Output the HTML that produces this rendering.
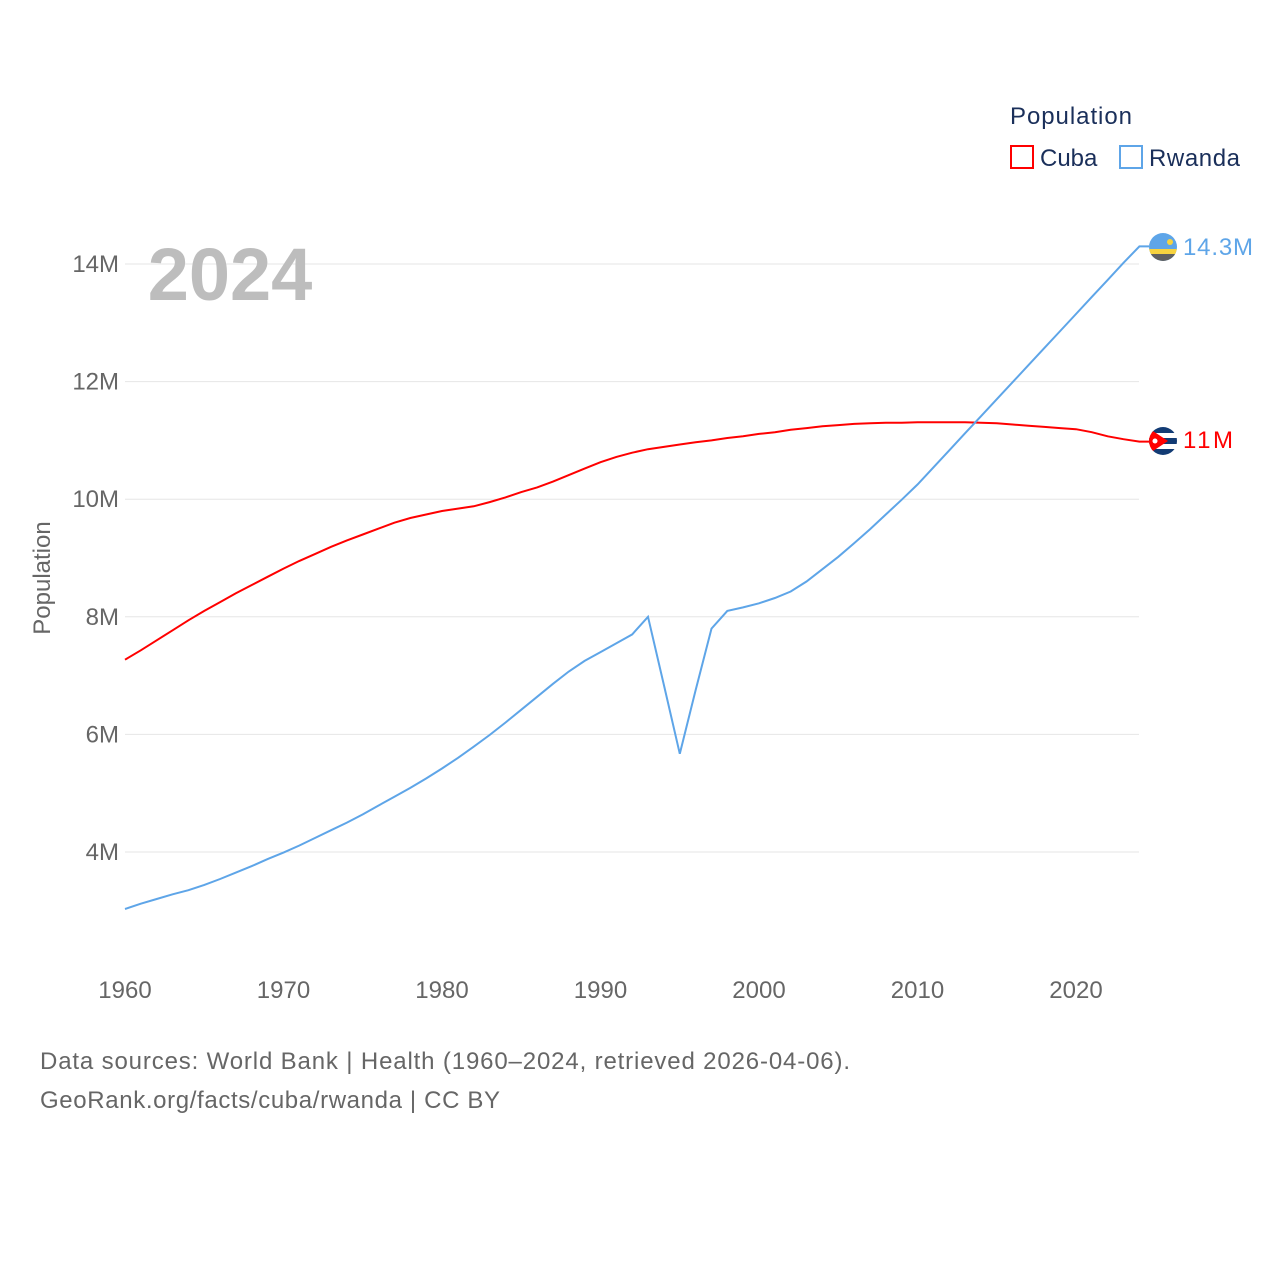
<!DOCTYPE html>
<html><head><meta charset="utf-8"><style>
body{margin:0;background:#fff;font-family:"Liberation Sans",sans-serif}
svg text{font-family:"Liberation Sans",sans-serif}
</style></head><body>
<svg width="1280" height="1280" viewBox="0 0 1280 1280">
<g id="grid"></g>
<g id="ticks"></g>
<text x="230" y="300" font-size="74" font-weight="bold" fill="#bdbdbd" text-anchor="middle">2024</text>
<text transform="translate(50,578) rotate(-90)" font-size="24" fill="#666" text-anchor="middle">Population</text>
<g>
<text x="1010" y="124" font-size="24" fill="#1a2f5a" textLength="122">Population</text>
<g><rect x="1011" y="146" width="22" height="22" fill="none" stroke="#f00" stroke-width="2"/><text x="1040" y="166" font-size="24" fill="#1a2f5a">Cuba</text></g>
<g><rect x="1120" y="146" width="22" height="22" fill="none" stroke="#5ea5e8" stroke-width="2"/><text x="1149" y="166" font-size="24" fill="#1a2f5a" textLength="91">Rwanda</text></g>
</g>
<g id="series"></g>
<defs>
<clipPath id="c1"><circle cx="1163" cy="247" r="14"/></clipPath>
<clipPath id="c2"><circle cx="1163" cy="441" r="14"/></clipPath>
</defs>
<g clip-path="url(#c1)">
<rect x="1149" y="233" width="28" height="28" fill="#5ea5e8"/>
<rect x="1149" y="249" width="28" height="5" fill="#f7d33f"/>
<rect x="1149" y="254" width="28" height="7" fill="#616161"/>
<circle cx="1170" cy="242" r="3" fill="#f7d33f"/>
</g>
<g clip-path="url(#c2)">
<rect x="1149" y="427" width="28" height="28" fill="#fff"/>
<rect x="1149" y="427" width="28" height="6" fill="#123b74"/>
<rect x="1149" y="438" width="28" height="6" fill="#123b74"/>
<rect x="1149" y="449" width="28" height="6" fill="#123b74"/>
<polygon points="1147,427 1168,441 1147,455" fill="#f00"/>
<circle cx="1155" cy="441" r="2.5" fill="#fff"/>
</g>
<text x="1183" y="255" font-size="24" fill="#5ea5e8" textLength="70">14.3M</text>
<text x="1183" y="448" font-size="24" fill="#f00" textLength="50">11M</text>
<text x="40" y="1069" font-size="24" fill="#666" textLength="810">Data sources: World Bank | Health (1960–2024, retrieved 2026-04-06).</text>
<text x="40" y="1108" font-size="24" fill="#666" textLength="460">GeoRank.org/facts/cuba/rwanda | CC BY</text>
</svg>
<script>
const years = [];for(let y=1960;y<=2024;y++)years.push(y);
const cuba = [7.27,7.43,7.6,7.77,7.94,8.1,8.25,8.4,8.54,8.68,8.82,8.95,9.07,9.19,9.3,9.4,9.5,9.6,9.68,9.74,9.8,9.84,9.88,9.95,10.03,10.12,10.2,10.3,10.41,10.52,10.63,10.72,10.79,10.85,10.89,10.93,10.97,11.0,11.04,11.07,11.11,11.14,11.18,11.21,11.24,11.26,11.28,11.29,11.3,11.3,11.31,11.31,11.31,11.31,11.3,11.29,11.27,11.25,11.23,11.21,11.19,11.14,11.07,11.02,10.98];
const rwanda = [3.03,3.12,3.2,3.28,3.35,3.44,3.54,3.65,3.76,3.88,3.99,4.11,4.24,4.37,4.5,4.64,4.79,4.94,5.09,5.25,5.42,5.6,5.79,5.99,6.2,6.42,6.64,6.86,7.07,7.25,7.4,7.55,7.7,8.0,6.84,5.67,6.75,7.8,8.1,8.16,8.23,8.32,8.43,8.6,8.81,9.02,9.25,9.49,9.74,9.99,10.25,10.54,10.83,11.12,11.41,11.7,11.99,12.28,12.57,12.86,13.15,13.44,13.73,14.02,14.3];
const yTicks = [4,6,8,10,12,14];
const xTicks = [1960,1970,1980,1990,2000,2010,2020];
const X = y => 125 + (y-1960)*(1076-125)/60;
const Y = v => 264 + (14-v)*(852-264)/10;
const NS="http://www.w3.org/2000/svg";
const grid=document.getElementById('grid'), ticks=document.getElementById('ticks'), ser=document.getElementById('series');
yTicks.forEach(t=>{
  const l=document.createElementNS(NS,'line');
  l.setAttribute('x1',125);l.setAttribute('x2',1139);l.setAttribute('y1',Y(t));l.setAttribute('y2',Y(t));
  l.setAttribute('stroke','#e6e6e6');l.setAttribute('stroke-width','1');
  
  
  grid.appendChild(l);
  const tx=document.createElementNS(NS,'text');
  tx.setAttribute('x',119);tx.setAttribute('y',Y(t)+8);tx.setAttribute('text-anchor','end');
  tx.setAttribute('font-size','24');tx.setAttribute('fill','#666');tx.textContent=t+'M';
  
  
  ticks.appendChild(tx);
});
xTicks.forEach(t=>{
  const tx=document.createElementNS(NS,'text');
  tx.setAttribute('x',X(t));tx.setAttribute('y',998);tx.setAttribute('text-anchor','middle');
  tx.setAttribute('font-size','24');tx.setAttribute('fill','#666');tx.textContent=t;
  
  
  ticks.appendChild(tx);
});
function line(vals,color,name){
  const p=document.createElementNS(NS,'path');
  let d=vals.map((v,i)=>(i?'L':'M')+X(years[i]).toFixed(1)+','+Y(v).toFixed(1)).join('');
  const last=vals[vals.length-1];
  d+='L1149,'+Y(last).toFixed(1);
  p.setAttribute('d',d);p.setAttribute('fill','none');p.setAttribute('stroke',color);p.setAttribute('stroke-width','2');
  
  
  ser.appendChild(p);
}
line(cuba,'#f00','cuba-line');
line(rwanda,'#5ea5e8','rwanda-line');
</script>
</body></html>
